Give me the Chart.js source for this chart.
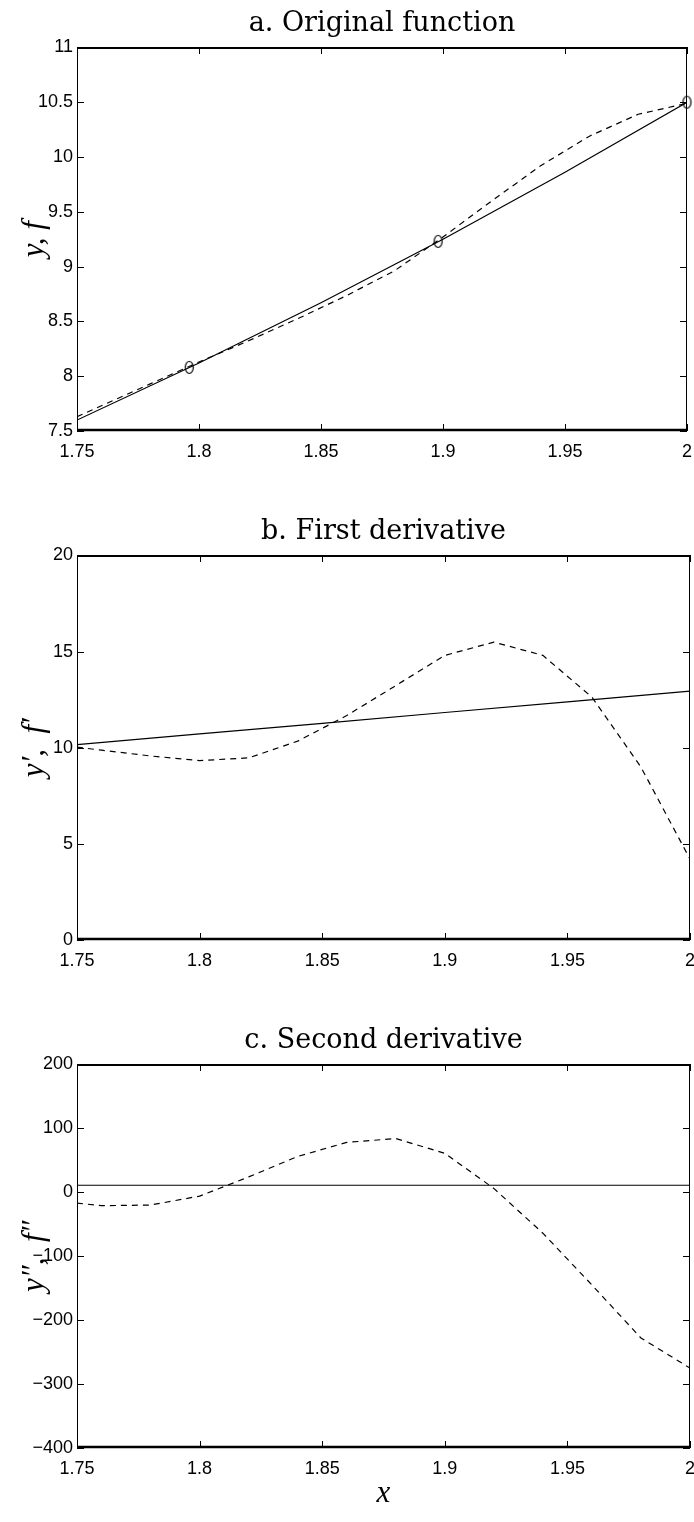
<!DOCTYPE html>
<html>
<head>
<meta charset="utf-8">
<script src="https://cdn.jsdelivr.net/npm/chart.js@4.4.1/dist/chart.umd.min.js"></script>
<style>
  body { margin: 0; background: #fff; }
  canvas { position: absolute; left: 0; }
</style>
</head>
<body>
<canvas id="plot-a" width="694" height="508" style="top:0px"></canvas>
<canvas id="plot-b" width="694" height="509" style="top:508px"></canvas>
<canvas id="plot-c" width="694" height="505" style="top:1017px"></canvas>
<script>
// x positions of the sampled curves
const xFine = [1.75, 1.76, 1.78, 1.80, 1.82, 1.84, 1.86, 1.88, 1.90, 1.92, 1.94, 1.96, 1.98, 2.00];
const xCoarse = [1.75, 1.80, 1.85, 1.90, 1.95, 2.00];

// a. original function
const fDashed = [7.63, 7.73, 7.93, 8.13, 8.32, 8.52, 8.73, 8.96, 9.27, 9.60, 9.92, 10.19, 10.39, 10.49];
const ySolid = [7.60, 8.12, 8.67, 9.25, 9.86, 10.50];
const xNodes = [1.796, 1.898, 2.0];
const yNodes = [8.08, 9.23, 10.5];

// b. first derivative
const f1Dashed = [10.03, 9.87, 9.57, 9.33, 9.47, 10.34, 11.67, 13.23, 14.80, 15.49, 14.80, 12.63, 8.99, 4.21];
const y1Solid = [10.16, 10.72, 11.27, 11.83, 12.38, 12.94];

// c. second derivative
const f2Dashed = [-17, -21, -20, -6, 24, 56, 78, 84, 61, 6, -64, -145, -228, -275];
const y2Solid = [11, 11, 11, 11, 11, 11];

const titles = ['a. Original function', 'b. First derivative', 'c. Second derivative'];
const yLabels = ['y, f', 'y\u2032,  f\u2032', 'y\u2033,  f\u2033'];

const tickFont = { family: "'Liberation Sans Narrow', 'Liberation Sans', sans-serif", size: 18 };
const serif = 'DejaVu Serif';
const mathFont = { family: "'Liberation Serif', 'DejaVu Serif', serif", style: 'italic', size: 31 };

function pts(xs, ys) {
    return xs.map((x, i) => ({ x: x, y: ys[i] }));
}

function fmt(v) {
    const n = +v.toFixed(2);
    return n < 0 ? '\u2212' + Math.abs(n) : String(n);
}

function ellipseMarker() {
    const c = document.createElement('canvas');
    c.width = 11;
    c.height = 15;
    const g = c.getContext('2d');
    g.strokeStyle = '#000';
    g.lineWidth = 1.2;
    g.beginPath();
    g.ellipse(5.5, 7.5, 4, 6, 0, 0, Math.PI * 2);
    g.stroke();
    return c;
}

// box around the axes with inward ticks on all four sides
const matlabFrame = {
    id: 'matlabFrame',
    afterDraw(chart) {
        const { ctx, chartArea: a, scales } = chart;
        const L = Math.round(a.left), R = Math.round(a.right);
        const T = Math.round(a.top), B = Math.round(a.bottom);
        ctx.save();
        ctx.strokeStyle = '#000';
        ctx.lineWidth = 1;
        ctx.beginPath();
        ctx.moveTo(L + 0.5, T); ctx.lineTo(L + 0.5, B);
        ctx.moveTo(R - 0.5, T); ctx.lineTo(R - 0.5, B);
        scales.x.ticks.forEach(t => {
            const px = Math.round(scales.x.getPixelForValue(t.value)) + 0.5;
            ctx.moveTo(px, B); ctx.lineTo(px, B - 7);
            ctx.moveTo(px, T); ctx.lineTo(px, T + 7);
        });
        scales.y.ticks.forEach(t => {
            const py = Math.round(scales.y.getPixelForValue(t.value)) + 0.5;
            ctx.moveTo(L, py); ctx.lineTo(L + 7, py);
            ctx.moveTo(R, py); ctx.lineTo(R - 7, py);
        });
        ctx.stroke();
        ctx.lineWidth = 2;
        ctx.beginPath();
        ctx.moveTo(L, T + 1); ctx.lineTo(R, T + 1);
        ctx.stroke();
        ctx.lineWidth = 2.5;
        ctx.beginPath();
        ctx.moveTo(L, B - 1); ctx.lineTo(R, B - 1);
        ctx.stroke();
        ctx.restore();
    }
};

function makePlot(id, k, datasets, yMin, yMax, yStep, xAxisHeight, showX) {
    const ctx = document.getElementById(id).getContext('2d');
    return new Chart(ctx, {
        type: 'line',
        data: { datasets: datasets },
        options: {
            responsive: false,
            animation: false,
            events: [],
            layout: { padding: { top: 0, left: 0, right: 4, bottom: 0 } },
            plugins: {
                legend: { display: false },
                tooltip: { enabled: false },
                title: {
                    display: true,
                    fullSize: false,
                    text: titles[k],
                    color: '#000',
                    font: { family: serif, size: 27, weight: 'normal' },
                    padding: { top: 8, bottom: 7 }
                }
            },
            elements: { line: { tension: 0 }, point: { radius: 0 } },
            scales: {
                x: {
                    type: 'linear',
                    min: 1.75,
                    max: 2,
                    grid: { display: false, drawTicks: false },
                    border: { display: false },
                    ticks: { stepSize: 0.05, color: '#000', font: tickFont, padding: 10, maxRotation: 0, callback: fmt },
                    title: {
                        display: showX,
                        text: 'x',
                        color: '#000',
                        font: mathFont,
                        padding: { top: 0, bottom: 10 }
                    },
                    afterFit(s) { s.height = xAxisHeight; s.paddingLeft = 0; s.paddingRight = 0; }
                },
                y: {
                    type: 'linear',
                    min: yMin,
                    max: yMax,
                    grid: { display: false, drawTicks: false },
                    border: { display: false },
                    ticks: { stepSize: yStep, color: '#000', font: tickFont, padding: 4, callback: fmt },
                    title: {
                        display: true,
                        text: yLabels[k],
                        color: '#000',
                        font: mathFont,
                        padding: { top: 16, bottom: 0 }
                    },
                    afterFit(s) { s.width = 77; s.paddingTop = 0; s.paddingBottom = 0; }
                }
            }
        },
        plugins: [matlabFrame]
    });
}

function solid(xs, ys) {
    return { data: pts(xs, ys), borderColor: '#000', borderWidth: 1.2, fill: false };
}

function dashed(xs, ys) {
    return { data: pts(xs, ys), borderColor: '#000', borderWidth: 1.2, borderDash: [6, 5], fill: false };
}

makePlot('plot-a', 0, [
    solid(xCoarse, ySolid),
    dashed(xFine, fDashed),
    {
        data: pts(xNodes, yNodes),
        showLine: false,
        clip: false,
        pointRadius: 6,
        pointStyle: ellipseMarker(),
        borderColor: '#000'
    }
], 7.5, 11, 0.5, 77, false);

makePlot('plot-b', 1, [
    solid(xCoarse, y1Solid),
    dashed(xFine, f1Dashed)
], 0, 20, 5, 77, false);

makePlot('plot-c', 2, [
    solid(xCoarse, y2Solid),
    dashed(xFine, f2Dashed)
], -400, 200, 100, 74, true);
</script>
</body>
</html>
